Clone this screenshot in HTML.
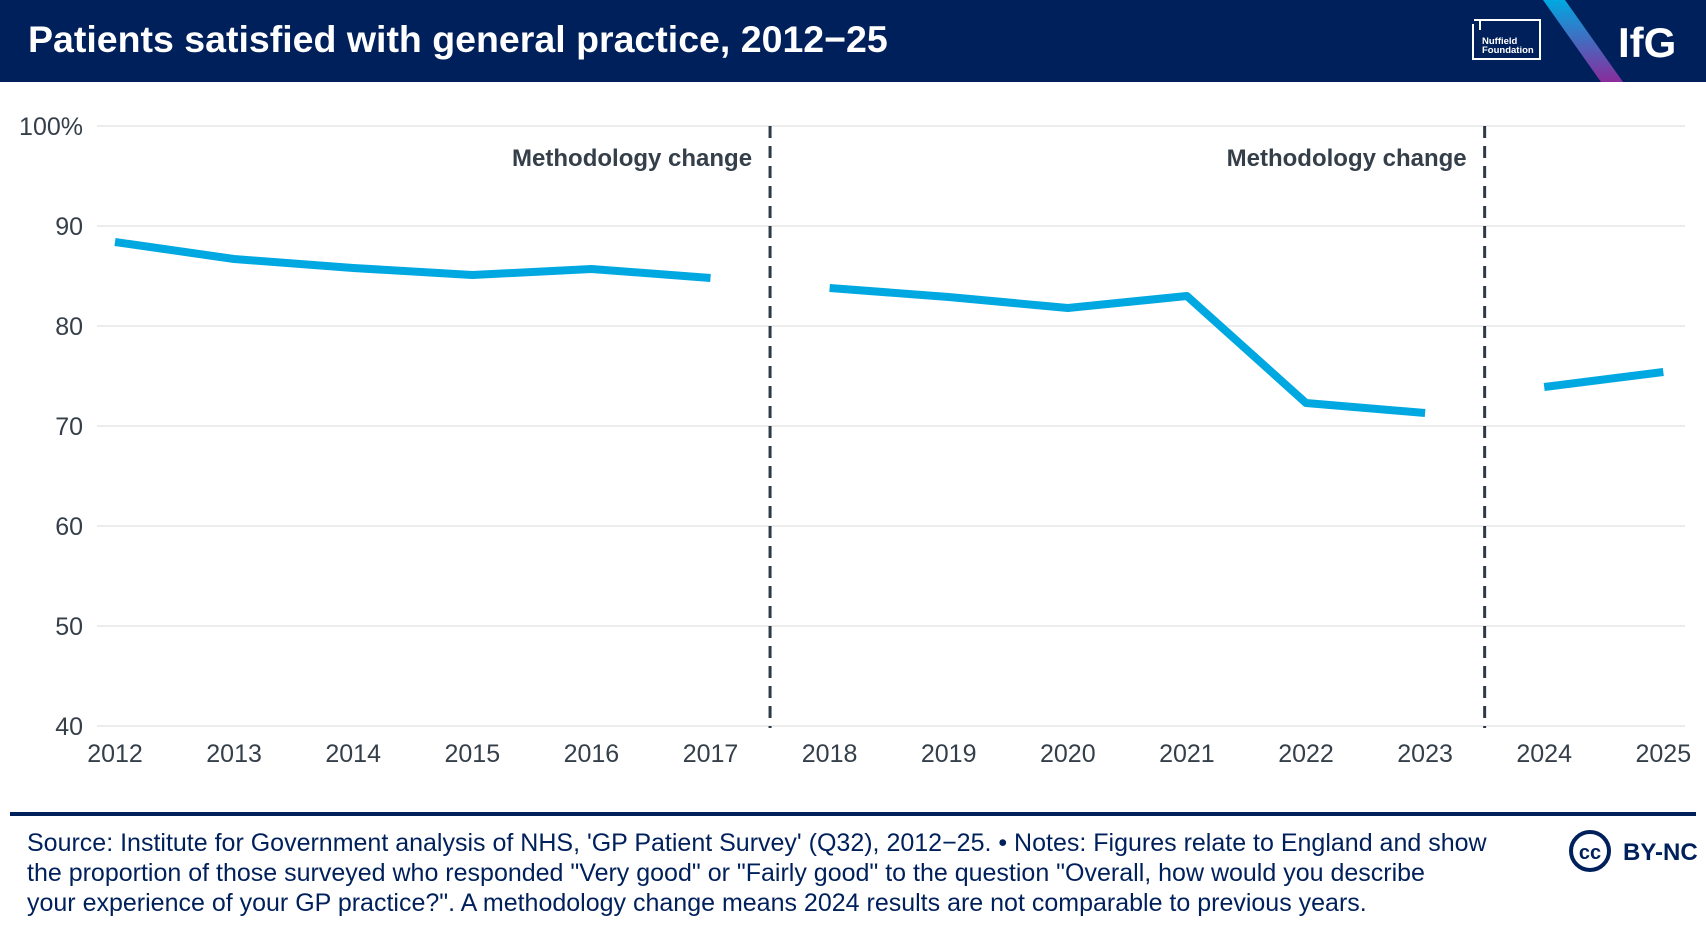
<!DOCTYPE html>
<html><head><meta charset="utf-8"><style>
body{margin:0;width:1706px;height:932px;background:#fff;font-family:"Liberation Sans",sans-serif;overflow:hidden;position:relative}
.hdr{position:absolute;left:0;top:0;width:1706px;height:82px;background:#00205b}
.title{position:absolute;left:28px;top:18px;color:#fff;font-weight:bold;font-size:37.5px;white-space:nowrap}
.src{position:absolute;left:27px;top:828px;font-size:25px;line-height:30px;color:#00205b;white-space:nowrap}
</style></head><body>
<div class="hdr">
<div class="title">Patients satisfied with general practice, 2012−25</div>
<svg width="1706" height="82" style="position:absolute;left:0;top:0">
<defs><linearGradient id="g" x1="0" y1="0" x2="0" y2="1"><stop offset="0" stop-color="#00a8e1"/><stop offset="1" stop-color="#8a2c9c"/></linearGradient></defs>
<path d="M1473 24 V59 H1540 V20 H1478" fill="none" stroke="#fff" stroke-width="2"/>
<path d="M1474 20 L1480 20 L1480 30" fill="none" stroke="#fff" stroke-width="2"/>
<text x="1482" y="44" fill="#fff" font-size="9.5" font-weight="bold">Nuffield</text>
<text x="1482" y="53" fill="#fff" font-size="9.5" font-weight="bold">Foundation</text>
<polygon points="1543,0 1565,0 1623,82 1601,82" fill="url(#g)"/>
<text x="1618" y="57" fill="#fff" font-size="42" font-weight="bold">IfG</text>
</svg></div>
<svg id="c" width="1706" height="800" style="position:absolute;left:0;top:0"></svg>
<div style="position:absolute;left:10px;top:812px;width:1686px;height:4px;background:#00205b"></div>
<div class="src">Source: Institute for Government analysis of NHS, 'GP Patient Survey' (Q32), 2012−25. • Notes: Figures relate to England and show<br>the proportion of those surveyed who responded "Very good" or "Fairly good" to the question "Overall, how would you describe<br>your experience of your GP practice?". A methodology change means 2024 results are not comparable to previous years.</div>
<svg width="140" height="50" style="position:absolute;left:1563px;top:826px">
<circle cx="27" cy="25" r="19" fill="none" stroke="#00205b" stroke-width="4"/>
<text x="27" y="33" text-anchor="middle" font-size="20" font-weight="bold" fill="#00205b">cc</text>
<text x="60" y="34" font-size="24" font-weight="bold" fill="#00205b">BY-NC</text>
</svg>
<script>
const years=[2012,2013,2014,2015,2016,2017,2018,2019,2020,2021,2022,2023,2024,2025];
const values=[88.4,86.7,85.8,85.1,85.7,84.8,83.8,82.9,81.8,83.0,72.3,71.3,73.9,75.4];
const segments=[[2012,2017],[2018,2023],[2024,2025]];
const yTicks=[40,50,60,70,80,90,100];
const breaks=[2017.5,2023.5];
const breakLabel="Methodology change";
const ns="http://www.w3.org/2000/svg",svg=document.getElementById('c');
const x=v=>115+(v-2012)*119.1, y=v=>726-(v-40)*10;
function mk(t,a,txt){const e=document.createElementNS(ns,t);for(const k in a)e.setAttribute(k,a[k]);if(txt!=null)e.textContent=txt;svg.appendChild(e);return e;}
yTicks.forEach(t=>{
 const g=mk('line',{x1:97,x2:1685,y1:y(t),y2:y(t),stroke:'#ececec','stroke-width':2});
 
 
 const l=mk('text',{x:83,y:y(t)+9,'text-anchor':'end','font-size':25,fill:'#353f4a'},t===100?'100%':t);
 
 
});
years.forEach(yr=>{
 const l=mk('text',{x:x(yr),y:762,'text-anchor':'middle','font-size':25,fill:'#353f4a'},yr);
 
 
});
breaks.forEach(b=>{
 const d=mk('line',{x1:x(b),x2:x(b),y1:126,y2:728,stroke:'#2e3a45','stroke-width':3,'stroke-dasharray':'12,8'});
 
 
 const t=mk('text',{x:x(b)-18,y:166,'text-anchor':'end','font-size':24,'font-weight':'bold',fill:'#353f4a'},breakLabel);
 
 
});
segments.forEach(([a,b])=>{
 const pts=[];years.forEach((yr,i)=>{if(yr>=a&&yr<=b)pts.push(x(yr)+','+y(values[i]));});
 const p=mk('polyline',{points:pts.join(' '),fill:'none',stroke:'#00a8e1','stroke-width':8,'stroke-linejoin':'round'});
 
 
});
</script>
</body></html>
